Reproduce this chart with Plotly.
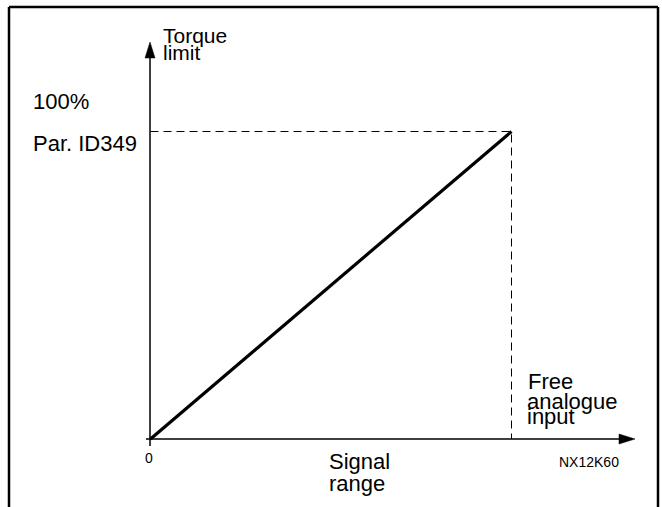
import plotly.graph_objects as go

# Torque limit vs. free analogue input signal (normalised 0..1)
signal = [0, 1]
torque = [0, 1]
ref_signal = [0, 1, 1]
ref_torque = [1, 1, 0]

W, H = 662, 507
X0, Y0 = 150.5, 439   # pixel position of origin
X1, Y1 = 511.5, 131.5   # pixel position of (1, 1)

sx = (X1 - X0)
sy = (Y0 - Y1)
xr = [-X0 / sx, (W - X0) / sx]
yr = [-(H - Y0) / sy, Y0 / sy]


def px(x):
    return x / W


def py(y):
    return 1 - y / H


FONT = "Liberation Sans, Arial, sans-serif"

fig = go.Figure()

# dashed helper lines to the 100% point
fig.add_trace(go.Scatter(x=ref_signal, y=ref_torque, mode="lines",
                         line=dict(color="black", width=1, dash="8px,5px"),
                         hoverinfo="skip"))
# the characteristic
fig.add_trace(go.Scatter(x=signal, y=torque, mode="lines",
                         line=dict(color="black", width=3.2),
                         hoverinfo="skip"))

shapes = []
# frame (open at the bottom)
for x0, y0, x1, y1 in [(9, 507, 9, 7), (9, 7, 658, 7), (658, 7, 658, 507)]:
    shapes.append(dict(type="line", xref="paper", yref="paper",
                       x0=px(x0), y0=py(y0), x1=px(x1), y1=py(y1),
                       line=dict(color="black", width=2.5)))
# axes
shapes.append(dict(type="line", xref="paper", yref="paper",
                   x0=px(150), y0=py(446), x1=px(150), y1=py(56),
                   line=dict(color="black", width=1.5)))
shapes.append(dict(type="line", xref="paper", yref="paper",
                   x0=px(146), y0=py(439), x1=px(622), y1=py(439),
                   line=dict(color="black", width=1.5)))
# arrow heads
shapes.append(dict(type="path", xref="paper", yref="paper",
                   path=f"M {px(150)} {py(42)} L {px(145)} {py(58)} L {px(155)} {py(58)} Z",
                   fillcolor="black", line=dict(color="black", width=0.5)))
shapes.append(dict(type="path", xref="paper", yref="paper",
                   path=f"M {px(635)} {py(439)} L {px(619)} {py(434)} L {px(619)} {py(444)} Z",
                   fillcolor="black", line=dict(color="black", width=0.5)))

labels = [
    ("Torque", 161, 35, 21),
    ("limit", 161, 53, 21),
    ("100%", 31, 101, 22),
    ("Par. ID349", 31, 143, 22),
    ("Free", 526, 381, 22),
    ("analogue", 525, 401, 22),
    ("input", 525, 416, 22),
    ("Signal", 327, 461, 22),
    ("range", 327, 483, 22),
    ("0", 143, 458, 14),
    ("NX12K60", 557, 462, 14),
]
annotations = [dict(text=t, x=px(x), y=py(y), xref="paper", yref="paper",
                    xanchor="left", yanchor="middle", showarrow=False,
                    font=dict(family=FONT, size=s, color="black"))
               for t, x, y, s in labels]

fig.update_layout(
    width=W, height=H,
    margin=dict(l=0, r=0, t=0, b=0),
    paper_bgcolor="white", plot_bgcolor="white",
    showlegend=False,
    xaxis=dict(range=xr, visible=False, fixedrange=True),
    yaxis=dict(range=yr, visible=False, fixedrange=True),
    shapes=shapes,
    annotations=annotations,
)

fig.write_html("out.html", config={"displayModeBar": False},
               post_script="document.body.style.margin='0';")
